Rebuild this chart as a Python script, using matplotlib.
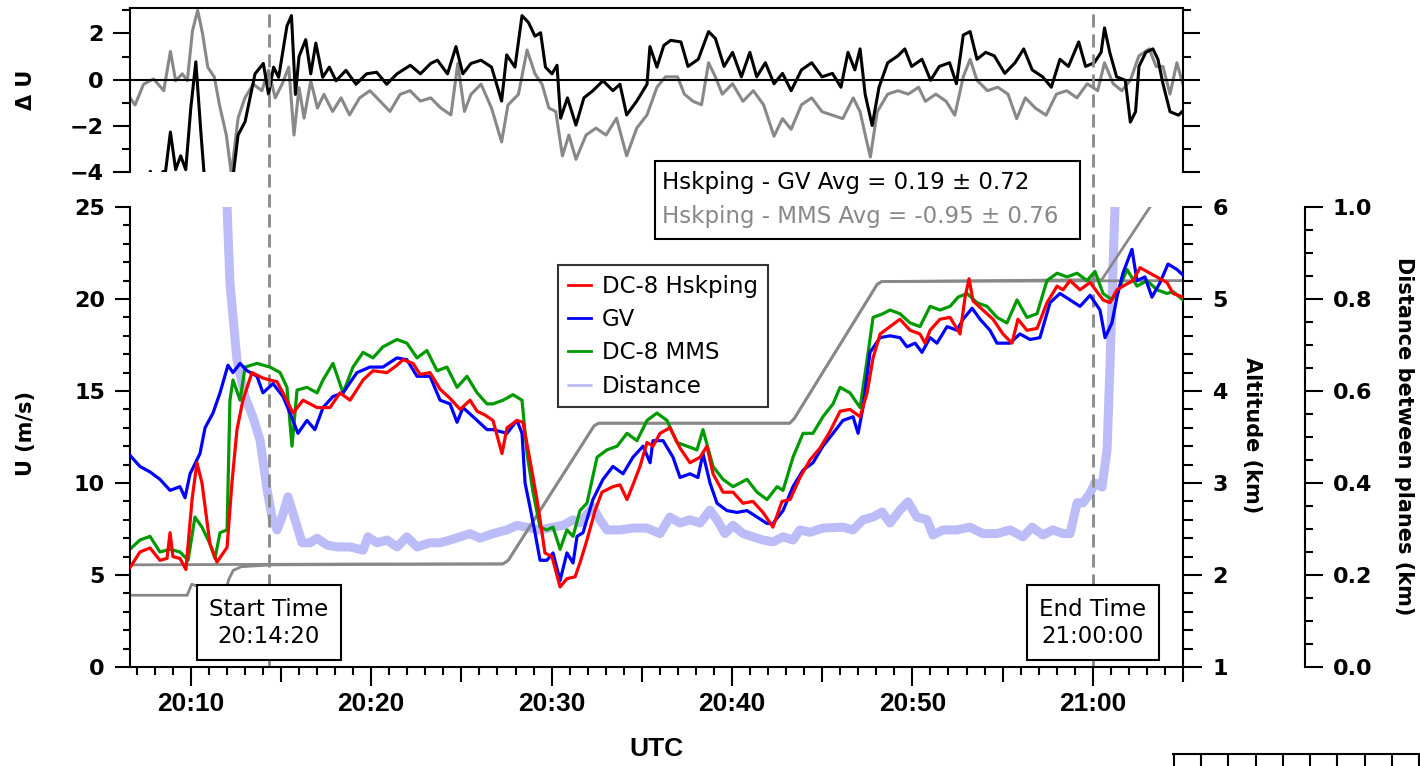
import matplotlib
matplotlib.use('Agg')
import matplotlib.pyplot as plt
from matplotlib.patches import Rectangle
from matplotlib.ticker import MultipleLocator, FixedLocator, FuncFormatter
import numpy as np

plt.rcParams['font.family'] = 'DejaVu Sans'

# times are minutes after 20:00 UTC
t_hsk = [6.63, 7.18, 7.74, 8.29, 8.68, 8.85, 9.01, 9.40, 9.73, 10.07,
         10.34, 10.62, 11.06, 11.45, 12.01, 12.28, 12.56, 12.89, 13.39, 14.00,
         14.78, 15.11, 15.67, 16.22, 17.00, 17.72, 18.27, 18.83, 19.55, 20.10,
         20.88, 21.43, 21.76, 22.32, 22.71, 23.26, 23.82, 24.37, 24.93, 25.48,
         25.87, 26.30, 26.75, 27.25, 27.53, 28.08, 28.41, 28.80, 29.19, 29.47,
         29.63, 30.02, 30.47, 30.85, 31.30, 31.57, 31.96, 32.41, 32.79, 33.40,
         33.79, 34.18, 34.51, 34.90, 35.29, 35.62, 36.01, 36.56, 37.12, 37.67,
         38.23, 38.61, 38.95, 39.50, 40.06, 40.61, 41.16, 41.72, 42.27, 42.77,
         43.22, 43.77, 44.32, 44.88, 45.43, 45.99, 46.54, 47.10, 47.49, 47.82,
         48.21, 48.76, 49.31, 49.87, 50.42, 50.70, 50.98, 51.53, 52.09, 52.64,
         52.92, 53.14, 53.36, 53.91, 54.47, 55.02, 55.52, 55.85, 56.35, 56.91,
         57.46, 58.02, 58.35, 58.74, 59.29, 59.85, 60.23, 60.57, 60.95, 61.34,
         61.67, 62.23, 62.62, 63.17, 63.73, 64.11, 64.45, 65.00]
u_hsk = [5.4, 6.25, 6.47, 5.8, 5.9, 7.3, 6.0, 5.9, 5.3, 9.1,
         11.1, 10.0, 6.7, 5.7, 6.5, 10.0, 12.9, 14.5, 16.0, 15.7,
         15.5, 14.9, 13.8, 14.5, 14.1, 14.1, 14.9, 14.5, 15.6, 16.1,
         16.0, 16.4, 16.7, 16.5, 15.9, 16.0, 15.1, 14.6, 14.0, 14.5,
         13.9, 13.7, 13.4, 11.6, 13.0, 13.4, 13.3, 11.25, 9.1, 7.3,
         6.2, 6.0, 4.35, 4.8, 4.9, 5.65, 6.9, 8.5, 9.5, 9.8,
         9.9, 9.1, 9.9, 10.9, 12.2, 12.0, 12.7, 13.0, 11.9, 11.1,
         11.4, 12.0, 10.5, 9.5, 9.5, 8.9, 9.0, 8.4, 7.6, 9.0,
         9.1, 10.3, 11.25, 11.9, 12.8, 13.9, 14.0, 13.6, 14.9, 16.8,
         18.1, 18.5, 18.9, 18.3, 18.1, 17.6, 18.3, 18.9, 19.0, 18.1,
         20.1, 21.1, 19.9, 19.4, 18.9, 18.1, 17.6, 18.9, 18.3, 18.4,
         19.8, 20.7, 20.5, 21.0, 20.5, 20.9, 20.4, 19.95, 19.8, 20.5,
         20.7, 21.0, 21.7, 21.4, 21.1, 20.9, 20.3, 20.1]

t_gv = [6.63, 7.18, 7.74, 8.29, 8.85, 9.40, 9.68, 9.96, 10.51, 10.79,
        11.23, 11.62, 12.06, 12.34, 12.73, 13.12, 13.67, 14.00, 14.56, 15.11,
        15.50, 15.94, 16.44, 16.88, 17.33, 17.88, 18.44, 19.21, 19.93, 20.65,
        21.43, 21.98, 22.54, 23.26, 23.82, 24.37, 24.76, 25.09, 25.87, 26.42,
        26.75, 27.53, 28.08, 28.36, 28.53, 28.80, 29.08, 29.36, 29.74, 30.08,
        30.47, 30.85, 31.19, 31.41, 31.74, 32.29, 32.85, 33.40, 33.96, 34.51,
        35.07, 35.46, 35.62, 36.18, 36.73, 37.12, 37.67, 38.11, 38.39, 38.78,
        39.17, 39.72, 40.28, 40.83, 41.39, 41.94, 42.27, 42.83, 43.38, 43.94,
        44.49, 45.04, 45.60, 46.15, 46.71, 46.99, 47.26, 47.65, 48.21, 48.76,
        49.31, 49.70, 50.15, 50.53, 50.98, 51.36, 51.92, 52.47, 52.81, 53.31,
        53.75, 54.30, 54.69, 55.41, 55.96, 56.52, 57.07, 57.63, 58.18, 58.74,
        59.29, 59.85, 60.40, 60.68, 61.06, 61.34, 61.67, 62.17, 62.45, 62.89,
        63.28, 63.73, 64.17, 64.67, 65.00]
u_gv = [11.5, 10.9, 10.6, 10.2, 9.6, 9.8, 9.2, 10.5, 11.6, 13.0,
        13.8, 14.9, 16.4, 16.0, 16.5, 16.1, 15.8, 14.9, 15.4, 14.7,
        13.8, 12.7, 13.4, 12.9, 14.1, 14.7, 14.9, 16.0, 16.3, 16.3,
        16.8, 16.7, 15.8, 15.8, 14.5, 14.3, 13.3, 14.1, 13.4, 12.9,
        12.9, 12.7, 13.4, 12.7, 10.0, 8.7, 7.3, 5.8, 5.8, 6.2,
        4.7, 6.2, 5.65, 7.1, 7.3, 9.1, 10.2, 10.9, 10.5, 11.4,
        12.0, 11.1, 12.3, 12.3, 11.4, 10.3, 10.5, 10.3, 11.6, 10.0,
        8.9, 8.5, 8.4, 8.5, 8.15, 7.8, 7.8, 8.5, 9.8, 10.7,
        11.1, 12.0, 12.7, 13.4, 13.6, 12.7, 14.1, 17.1, 17.9, 18.0,
        17.9, 17.4, 17.6, 17.1, 17.9, 17.6, 18.5, 18.3, 18.9, 19.5,
        18.9, 18.3, 17.6, 17.6, 18.1, 17.8, 17.9, 19.8, 20.3, 19.95,
        19.6, 20.2, 19.4, 17.9, 18.7, 20.1, 21.4, 22.7, 21.0, 21.2,
        20.1, 20.9, 21.9, 21.6, 21.3]

t_mms = [6.63, 7.18, 7.74, 8.29, 8.85, 9.40, 9.85, 10.23, 10.62, 11.06,
         11.34, 11.62, 12.01, 12.17, 12.34, 12.73, 13.01, 13.67, 14.39, 14.95,
         15.33, 15.61, 15.89, 16.44, 17.00, 17.33, 17.88, 18.44, 18.99, 19.55,
         20.10, 20.65, 21.43, 21.98, 22.54, 23.09, 23.65, 24.20, 24.76, 25.31,
         25.87, 26.42, 26.75, 27.31, 27.86, 28.36, 28.64, 28.97, 29.36, 29.74,
         30.08, 30.47, 30.85, 31.19, 31.57, 31.96, 32.52, 33.07, 33.63, 34.18,
         34.73, 35.29, 35.84, 36.40, 36.95, 37.51, 38.06, 38.39, 38.95, 39.50,
         40.06, 40.83, 41.39, 41.94, 42.50, 42.83, 43.38, 43.94, 44.49, 45.04,
         45.60, 45.99, 46.54, 47.10, 47.49, 47.82, 48.37, 48.76, 49.31, 49.87,
         50.42, 50.98, 51.53, 52.09, 52.53, 53.03, 53.58, 54.14, 54.69, 55.24,
         55.80, 56.35, 56.91, 57.46, 58.02, 58.57, 59.13, 59.68, 60.12, 60.57,
         61.06, 61.51, 61.90, 62.45, 63.01, 63.56, 64.11, 64.45, 65.00]
u_mms = [6.4, 6.9, 7.1, 6.25, 6.4, 6.25, 5.8, 8.15, 7.6, 6.7,
         5.9, 7.3, 7.45, 14.5, 15.6, 14.5, 16.3, 16.5, 16.3, 16.0,
         15.2, 12.0, 15.05, 15.2, 14.9, 15.6, 16.5, 14.9, 16.3, 17.1,
         16.8, 17.4, 17.8, 17.6, 16.8, 17.2, 16.1, 16.3, 15.2, 15.8,
         14.9, 14.3, 14.3, 14.5, 14.8, 14.5, 11.6, 9.5, 7.6, 7.45,
         7.6, 6.4, 7.45, 7.1, 8.5, 8.9, 11.4, 11.8, 12.0, 12.7,
         12.3, 13.4, 13.8, 13.4, 12.2, 12.0, 11.8, 12.9, 10.9, 10.2,
         9.8, 10.2, 9.5, 9.1, 9.8, 9.6, 11.4, 12.7, 12.7, 13.6,
         14.3, 15.2, 14.9, 14.1, 16.7, 19.0, 19.2, 19.4, 19.2, 18.7,
         18.5, 19.6, 19.4, 19.6, 20.1, 20.3, 19.8, 19.6, 19.0, 18.7,
         19.95, 19.0, 19.2, 21.0, 21.4, 21.2, 21.4, 21.0, 21.5, 20.3,
         19.95, 20.7, 21.6, 20.7, 21.0, 20.5, 20.3, 20.4, 19.95]

t_dist = [11.84, 12.01, 12.17, 12.56, 13.01, 13.45, 13.84, 14.23, 14.50, 14.78,
          15.06, 15.39, 15.78, 16.17, 16.61, 17.00, 17.55, 18.11, 18.83, 19.55,
          19.82, 20.32, 20.88, 21.43, 21.98, 22.54, 23.26, 23.82, 24.37, 24.93,
          25.48, 26.03, 26.75, 27.53, 28.08, 28.80, 29.36, 30.08, 30.63, 31.19,
          31.57, 32.29, 32.68, 33.07, 33.79, 34.51, 35.29, 36.01, 36.56, 37.12,
          37.67, 38.23, 38.78, 39.17, 39.61, 40.06, 40.61, 41.16, 41.72, 42.27,
          42.83, 43.38, 43.77, 44.32, 45.04, 46.15, 46.71, 47.26, 47.82, 48.32,
          48.76, 49.31, 49.76, 50.25, 50.81, 51.14, 51.70, 52.47, 53.19, 53.91,
          54.69, 55.41, 56.13, 56.63, 57.24, 57.79, 58.35, 58.74, 59.13, 59.46,
          59.85, 60.12, 60.51, 60.79, 60.95, 61.12, 61.23, 61.34]
dist = [1.1, 1.0, 0.835, 0.667, 0.587, 0.543, 0.493, 0.385, 0.326, 0.298,
        0.326, 0.37, 0.32, 0.27, 0.27, 0.28, 0.265, 0.261, 0.261, 0.254,
        0.283, 0.27, 0.276, 0.261, 0.283, 0.261, 0.27, 0.27, 0.276, 0.283,
        0.29, 0.28, 0.29, 0.298, 0.308, 0.302, 0.298, 0.304, 0.308, 0.32,
        0.313, 0.348, 0.32, 0.298, 0.298, 0.302, 0.302, 0.29, 0.326, 0.313,
        0.32, 0.313, 0.341, 0.32, 0.29, 0.308, 0.29, 0.283, 0.276, 0.272,
        0.283, 0.276, 0.298, 0.293, 0.302, 0.304, 0.298, 0.32, 0.326, 0.337,
        0.313, 0.341, 0.359, 0.326, 0.32, 0.287, 0.298, 0.298, 0.304, 0.29,
        0.29, 0.298, 0.283, 0.304, 0.287, 0.298, 0.29, 0.29, 0.357, 0.357,
        0.378, 0.40, 0.391, 0.472, 0.652, 0.87, 1.0, 1.1]

t_alt_dc8 = [6.63, 20.0, 27.30, 27.60, 32.35, 32.60, 43.20, 43.45, 48.05, 48.30, 65.00]
alt_dc8 = [2.11, 2.12, 2.12, 2.16, 3.62, 3.65, 3.65, 3.70, 5.16, 5.19, 5.20]
t_alt_gv = [6.63, 9.80, 10.05, 10.35, 10.60, 11.90, 12.10, 12.35, 12.80, 14.50,
            27.30, 27.60, 32.35, 32.60, 43.20, 43.45, 48.05, 48.30, 60.50, 63.17, 64.0]
alt_gv = [1.78, 1.78, 1.90, 1.88, 1.80, 1.80, 1.95, 2.05, 2.09, 2.11,
          2.12, 2.16, 3.62, 3.65, 3.65, 3.70, 5.16, 5.19, 5.21, 6.0, 6.3]

# differences, top panel
t_dgv = [7.70, 7.76, 7.82, 8.35, 8.45, 8.60, 8.87, 9.16, 9.44, 9.72,
         10.00, 10.28, 10.57, 10.75, 11.50, 12.34, 12.62, 13.01, 13.56, 14.02,
         14.31, 14.59, 14.87, 15.33, 15.58, 15.80, 16.00, 16.37, 16.65, 16.93,
         17.31, 17.68, 18.05, 18.60, 19.16, 19.74, 20.30, 20.86, 21.43, 22.17,
         22.73, 23.30, 23.67, 24.23, 24.70, 25.08, 25.53, 26.09, 26.67, 27.23,
         27.51, 27.97, 28.36, 28.72, 29.08, 29.39, 29.66, 30.02, 30.30, 30.50,
         30.88, 31.35, 31.79, 32.29, 32.85, 33.40, 33.79, 34.16, 34.72, 35.29,
         35.45, 35.84, 36.22, 36.60, 37.17, 37.56, 38.13, 38.70, 39.08, 39.56,
         40.03, 40.52, 40.99, 41.37, 41.85, 42.33, 42.80, 43.28, 43.85, 44.42,
         44.99, 45.57, 46.04, 46.43, 46.81, 47.10, 47.38, 47.77, 48.15, 48.63,
         49.20, 49.58, 49.96, 50.53, 51.01, 51.49, 52.06, 52.44, 52.82, 53.20,
         53.58, 54.06, 54.54, 55.12, 55.69, 56.17, 56.64, 57.22, 57.70, 58.18,
         58.65, 59.22, 59.60, 60.08, 60.46, 60.65, 60.94, 61.32, 61.80, 62.08,
         62.37, 62.56, 62.94, 63.33, 63.61, 63.89, 64.28, 64.75, 65.14]
d_gv = [-4.5, -3.97, -4.5, -4.4, -3.98, -3.98, -2.27, -3.9, -3.3, -3.9,
        -1.23, 0.77, -2.4, -4.2, -6.0, -4.2, -2.4, -1.82, 0.25, 0.7,
        -0.64, 0.54, 0.1, 2.32, 2.77, -0.64, 1.0, 1.73, 0.25, 1.58,
        0.1, 0.54, -0.05, 0.4, -0.2, 0.25, 0.32, -0.2, 0.25, 0.62,
        0.25, 0.7, 0.84, 0.25, 1.43, 0.25, 0.7, 0.84, 0.54, -0.93,
        1.07, 0.54, 2.77, 2.47, 1.88, 2.03, 0.54, 0.25, 0.62, -1.67,
        -0.79, -1.97, -0.79, -0.48, -0.05, -0.48, -0.2, -1.53, -0.93, -0.2,
        1.43, 0.54, 1.48, 1.7, 1.63, 0.57, 0.88, 2.08, 1.78, 0.57,
        1.18, 0.12, 1.18, 0.12, 0.73, -0.18, 0.27, -0.48, 0.42, 0.73,
        0.12, 0.27, -0.33, 1.18, 0.42, 1.33, -0.63, -1.99, -0.33, 0.73,
        1.03, 1.33, 0.57, 0.88, -0.03, 0.57, 0.73, -0.18, 1.93, 2.08,
        0.88, 1.18, 1.03, 0.27, 0.73, 1.33, 0.42, 0.12, -0.33, 0.88,
        0.57, 1.63, 0.57, 0.73, 1.18, 2.24, 1.18, 0.12, -0.03, -1.84,
        -1.39, 0.57, 1.18, 1.33, 0.88, -0.18, -1.39, -1.54, -1.24]

t_dmms = [6.63, 6.91, 7.38, 7.94, 8.50, 8.87, 9.16, 9.53, 9.81, 10.09,
          10.38, 10.65, 10.94, 11.31, 11.59, 11.97, 12.25, 12.62, 13.00, 13.46,
          13.94, 14.31, 14.68, 15.06, 15.43, 15.72, 16.00, 16.28, 16.65, 17.02,
          17.38, 17.86, 18.33, 18.80, 19.36, 19.93, 20.49, 21.04, 21.60, 22.15,
          22.73, 23.30, 23.86, 24.42, 24.80, 25.17, 25.53, 26.09, 26.67, 27.23,
          27.58, 28.16, 28.64, 29.08, 29.47, 29.85, 30.23, 30.60, 30.96, 31.35,
          31.91, 32.46, 33.02, 33.60, 34.16, 34.72, 35.29, 35.84, 36.31, 36.98,
          37.36, 37.84, 38.31, 38.70, 39.08, 39.46, 40.03, 40.61, 41.18, 41.75,
          42.33, 42.80, 43.28, 43.85, 44.42, 44.99, 45.57, 46.14, 46.72, 47.10,
          47.49, 47.67, 48.05, 48.63, 49.20, 49.77, 50.34, 50.72, 51.30, 51.87,
          52.35, 52.82, 53.20, 53.58, 54.16, 54.73, 55.30, 55.78, 56.26, 56.83,
          57.41, 57.98, 58.55, 59.12, 59.69, 60.27, 60.65, 61.13, 61.61, 62.08,
          62.56, 63.13, 63.51, 63.89, 64.28, 64.66, 65.04]
d_mms = [-0.79, -1.1, -0.2, 0.03, -0.48, 1.22, -0.05, 0.25, -0.05, 2.1,
         3.0, 2.0, 0.54, 0.1, -1.1, -2.4, -4.1, -1.67, -0.79, -0.2,
         -0.48, 0.4, -0.79, -0.2, 0.54, -2.4, -0.35, -1.67, -0.05, -1.23,
         -0.64, -1.38, -0.79, -1.53, -0.79, -0.48, -0.93, -1.38, -0.64, -0.48,
         -0.93, -0.79, -1.23, -1.53, 0.7, -1.38, -0.64, -0.2, -1.23, -2.7,
         -1.1, -0.64, 1.28, 0.25, -0.2, -1.23, -1.38, -3.3, -2.4, -3.45,
         -2.4, -2.1, -2.4, -1.67, -3.3, -2.1, -1.53, -0.33, 0.12, 0.12,
         -0.63, -0.94, -1.09, 0.73, 0.12, -0.63, -0.18, -0.94, -0.48, -1.09,
         -2.45, -1.69, -2.15, -1.09, -0.79, -1.39, -1.54, -1.69, -0.79, -1.39,
         -2.75, -3.35, -1.39, -0.63, -0.48, -0.63, -0.33, -0.94, -0.63, -0.94,
         -1.54, 0.12, 0.88, -0.03, -0.48, -0.33, -0.63, -1.69, -0.79, -1.24,
         -1.54, -0.63, -0.48, -0.79, -0.18, -0.48, 0.73, -0.18, -0.48, -0.03,
         1.03, 1.33, 0.57, 0.57, -0.63, 0.73, -0.33]

start_time = 14 + 20 / 60
end_time = 60.0
stats_gv = (0.19, 0.72)
stats_mms = (-0.95, 0.76)

W, H = 1420, 766
fig = plt.figure(figsize=(W / 100, H / 100), dpi=100)
ax = fig.add_axes([130 / W, 1 - 667 / H, 1053 / W, 460 / H])
ax_top = fig.add_axes([130 / W, 1 - 172 / H, 1053 / W, 164 / H])
ax_alt = ax.twinx()
ax_dist = ax.twinx()
ax_dist.set_zorder(1)
ax_alt.set_zorder(2)
ax.set_zorder(3)
ax.patch.set_visible(False)

xlim = (6.63, 65.0)
gray = '#888888'
lav = '#bcbcf8'
narrow = ['Liberation Sans', 'DejaVu Sans']

# main panel
ax_dist.plot(t_dist, dist, color=lav, lw=6.5, solid_capstyle='round', label='Distance')
ax_alt.plot(t_alt_dc8, alt_dc8, color=gray, lw=2)
ax_alt.plot(t_alt_gv, alt_gv, color=gray, lw=2)
l1, = ax.plot(t_hsk, u_hsk, color='#ff0000', lw=2.3, label='DC-8 Hskping', zorder=4)
l2, = ax.plot(t_gv, u_gv, color='#0000ff', lw=2.3, label='GV', zorder=3)
l3, = ax.plot(t_mms, u_mms, color='#009a00', lw=2.3, label='DC-8 MMS', zorder=2)
l4 = ax_dist.get_lines()[0]

for tt in (start_time, end_time):
    ax.axvline(tt, ymin=0, ymax=(667 - 8) / 460, color=gray, lw=2,
               ls=(0, (4.7, 2.5)), clip_on=False, zorder=1)

ax.set_xlim(*xlim)
ax.set_ylim(0, 25)
ax_alt.set_ylim(1, 6)
ax_dist.set_ylim(0, 1)

for a in (ax, ax_alt, ax_dist):
    for s in a.spines.values():
        s.set_visible(False)
        s.set_linewidth(1.5)
ax.spines['left'].set_visible(True)
ax.spines['bottom'].set_visible(True)
ax_alt.spines['right'].set_visible(True)
ax_dist.spines['right'].set_visible(True)
ax_dist.spines['right'].set_position(('axes', (1305 - 130) / 1053))

ylab = 16
ax.yaxis.set_major_locator(MultipleLocator(5))
ax.yaxis.set_minor_locator(MultipleLocator(1))
ax.tick_params(axis='y', which='major', length=11, width=1.5, pad=7, labelsize=ylab)
ax.tick_params(axis='y', which='minor', length=5, width=1.5)

ax_alt.yaxis.set_major_locator(MultipleLocator(1))
ax_alt.yaxis.set_minor_locator(MultipleLocator(0.2))
ax_alt.tick_params(axis='y', which='major', length=14, width=1.5, pad=7, labelsize=ylab)
ax_alt.tick_params(axis='y', which='minor', length=7, width=1.5)

ax_dist.yaxis.set_major_locator(MultipleLocator(0.2))
ax_dist.yaxis.set_minor_locator(MultipleLocator(0.05))
ax_dist.yaxis.set_major_formatter(FuncFormatter(lambda v, p: f'{v:.1f}'))
ax_dist.tick_params(axis='y', which='major', length=13, width=1.5, pad=7, labelsize=ylab)
ax_dist.tick_params(axis='y', which='minor', length=6, width=1.5)

xt = np.arange(10, 66, 5)
ax.xaxis.set_major_locator(FixedLocator(xt))
ax.xaxis.set_minor_locator(MultipleLocator(1))
ax.xaxis.set_major_formatter(FuncFormatter(
    lambda v, p: f'{20 + int(round(v)) // 60}:{int(round(v)) % 60:02d}' if int(round(v)) % 10 == 0 else ''))
ax.tick_params(axis='x', which='major', length=14, width=1.5, pad=4, labelsize=19,
               labelfontfamily=narrow)
ax.tick_params(axis='x', which='minor', length=6, width=1.5)
for tk, v in zip(ax.xaxis.get_major_ticks(), xt):
    if v % 10:
        tk.tick1line.set_markersize(11)

# top panel
ax_top.plot(t_dmms, d_mms, color=gray, lw=2.2)
ax_top.plot(t_dgv, d_gv, color='black', lw=2.2)
ax_top.axhline(0, color='black', lw=1.5)
ax_top.set_xlim(*xlim)
ax_top.set_ylim(-4, 3.1)
ax_top.spines['bottom'].set_visible(False)
for s in ax_top.spines.values():
    s.set_linewidth(1.5)
ax_top.tick_params(axis='x', bottom=False, labelbottom=False)
ax_top.yaxis.set_major_locator(MultipleLocator(2))
ax_top.yaxis.set_minor_locator(MultipleLocator(1))
ax_top.tick_params(axis='y', which='major', length=12, width=1.5, pad=7, labelsize=ylab, right=True)
ax_top.tick_params(axis='y', which='minor', length=6, width=1.5, right=True)

for a in (ax, ax_alt, ax_dist, ax_top):
    for lab in a.get_yticklabels() + a.get_xticklabels():
        lab.set_fontweight('bold')

# stray axis fragment at bottom right
ax_s = fig.add_axes([1173 / W, 12 / H - 0.03, 247 / W, 0.03])
for k, s in ax_s.spines.items():
    s.set_visible(k == 'top')
    s.set_linewidth(1.5)
ax_s.patch.set_visible(False)
ax_s.set_xlim(-0.04, 9.04)
ax_s.set_xticks(np.arange(10))
ax_s.set_yticks([])
ax_s.tick_params(axis='x', bottom=False, top=True, direction='in', length=9, width=1.5,
                 labelbottom=False, labeltop=False)

# annotations
box = dict(boxstyle='square,pad=0.55', fc='white', ec='black', lw=1.5)
ax.text(start_time, 2.4, 'Start Time\n20:14:20', ha='center', va='center', fontsize=16.5,
        bbox=box, zorder=20, linespacing=1.2)
ax.text(end_time, 2.4, 'End Time\n21:00:00', ha='center', va='center', fontsize=16.5,
        bbox=box, zorder=20, linespacing=1.2)

leg = ax.legend(handles=[l1, l2, l3, l4], loc='upper left',
                bbox_to_anchor=((558 - 130) / 1053, (667 - 265) / 460), borderaxespad=0,
                prop={'size': 16.5}, frameon=True, fancybox=False,
                handlelength=1.0, handletextpad=0.5, labelspacing=0.45, borderpad=0.42)
leg.get_frame().set_edgecolor('black')
leg.get_frame().set_linewidth(1.5)
leg.set_zorder(20)
for h in leg.get_lines():
    h.set_linewidth(2)

fig.patches.append(Rectangle((655 / W, 1 - 239 / H), 425 / W, 78 / H, transform=fig.transFigure,
                             fc='white', ec='black', lw=1.5, zorder=10))
fig.text(662 / W, 1 - 183 / H, f'Hskping - GV Avg = {stats_gv[0]:.2f} \u00b1 {stats_gv[1]:.2f}',
         color='black', fontsize=16.5, va='center', zorder=11)
fig.text(662 / W, 1 - 216 / H, f'Hskping - MMS Avg = {stats_mms[0]:.2f} \u00b1 {stats_mms[1]:.2f}',
         color=gray, fontsize=16.5, va='center', zorder=11)

# axis titles
fig.text(26 / W, 1 - 90 / H, '\u0394 U', rotation=90, ha='center', va='center', fontsize=15,
         fontweight='bold')
fig.text(26 / W, 1 - 433 / H, 'U (m/s)', rotation=90, ha='center', va='center', fontsize=15,
         fontweight='bold')
fig.text(1252 / W, 1 - 435 / H, 'Altitude (km)', rotation=270, ha='center', va='center',
         fontsize=15, fontweight='bold')
fig.text(1404 / W, 1 - 436 / H, 'Distance between planes (km)', rotation=270, ha='center',
         va='center', fontsize=15, fontweight='bold')
fig.text(656 / W, 1 - 749 / H, 'UTC', ha='center', va='center', fontsize=19, fontweight='bold',
         family=narrow)

fig.savefig('out.png', dpi=100)
